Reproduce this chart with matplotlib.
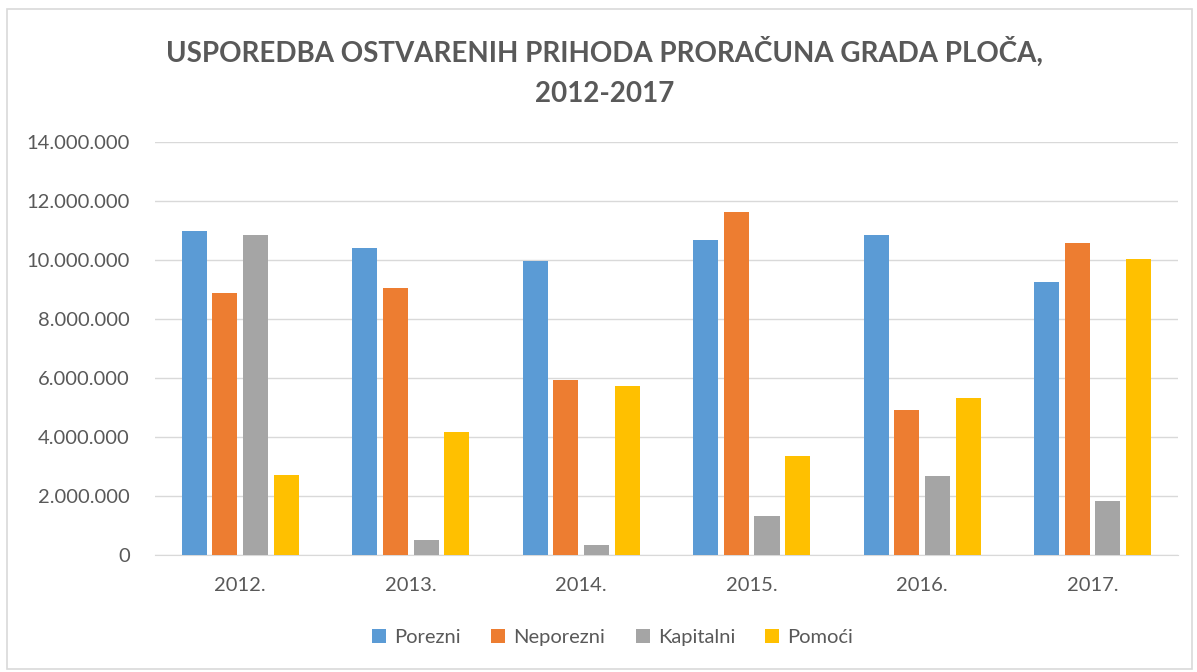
import matplotlib.pyplot as plt
import numpy as np
from matplotlib.patches import Rectangle
from matplotlib.ticker import FuncFormatter

years = ["2012.", "2013.", "2014.", "2015.", "2016.", "2017."]
porezni = [10980000, 10410000, 9970000, 10680000, 10850000, 9250000]
neporezni = [8880000, 9050000, 5930000, 11630000, 4920000, 10580000]
kapitalni = [10850000, 510000, 340000, 1320000, 2680000, 1830000]
pomoci = [2710000, 4170000, 5730000, 3360000, 5320000, 10030000]

series = [("Porezni", porezni, "#5B9BD5"),
          ("Neporezni", neporezni, "#ED7D31"),
          ("Kapitalni", kapitalni, "#A5A5A5"),
          ("Pomoći", pomoci, "#FFC000")]

plt.rcParams['font.family'] = ['Lato', 'DejaVu Sans']

fig = plt.figure(figsize=(11.97, 6.72), dpi=100)
ax = fig.add_axes([0.1295, 0.174, 0.8545, 0.615])

x = np.arange(len(years))
step = 0.18
width = 0.147
for i, (name, vals, col) in enumerate(series):
    ax.bar(x + (i - 1.5) * step, vals, width, color=col, label=name, zorder=3)

ax.set_xlim(-0.5, len(years) - 0.5)
ax.set_ylim(0, 14000000)
ax.set_yticks(np.arange(0, 14000001, 2000000))
ax.yaxis.set_major_formatter(FuncFormatter(lambda v, p: f"{int(v):,}".replace(",", ".")))
ax.set_xticks(x)
ax.set_xticklabels(years)
ax.grid(axis='y', color='#D9D9D9', linewidth=1, zorder=0)
for s in ['top', 'right', 'left']:
    ax.spines[s].set_visible(False)
ax.spines['bottom'].set_color('#D9D9D9')
ax.tick_params(axis='both', length=0, colors='#595959', labelsize=14.5)
ax.tick_params(axis='y', pad=18)
ax.tick_params(axis='x', pad=16)

fig.text(0.505, 0.893, "USPOREDBA OSTVARENIH PRIHODA PRORAČUNA GRADA PLOČA,\n2012-2017",
         ha='center', va='center', fontsize=20, fontweight='bold', color='#595959',
         linespacing=1.65)

fig.legend(*ax.get_legend_handles_labels(), loc='center', bbox_to_anchor=(0.512, 0.052),
           ncol=4, frameon=False, fontsize=14.5, handlelength=0.7, handleheight=0.7,
           columnspacing=1.5, handletextpad=0.4, labelcolor='#595959')

fig.patches.append(Rectangle((0.006, 0.005), 0.99, 0.982, transform=fig.transFigure,
                             fill=False, edgecolor='#D9D9D9', linewidth=1.2))

fig.savefig("out.png", dpi=100)
